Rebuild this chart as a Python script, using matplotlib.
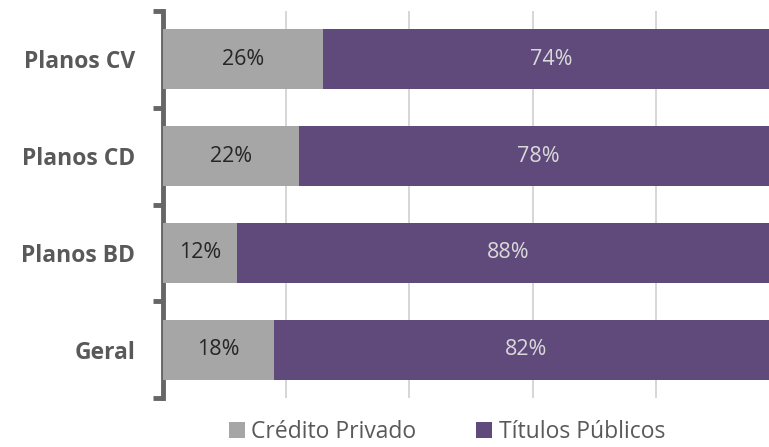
import matplotlib.pyplot as plt
import numpy as np

categorias = ['Planos CV', 'Planos CD', 'Planos BD', 'Geral']
credito_privado = [26, 22, 12, 18]
titulos_publicos = [74, 78, 88, 82]
series = ['Crédito Privado', 'Títulos Públicos']
cores = ['#a6a6a6', '#604a7b']

plt.rcParams['font.family'] = ['Open Sans', 'DejaVu Sans']

fig = plt.figure(figsize=(7.69, 4.47), dpi=100)
ax = fig.add_axes([163 / 769, 1 - 398 / 447, 616 / 769, 387 / 447])

y = np.arange(len(categorias))
cp = np.array(credito_privado) / 100
tp = np.array(titulos_publicos) / 100
ax.barh(y, cp, height=0.62, color=cores[0], label=series[0], zorder=3)
ax.barh(y, tp, left=cp, height=0.62, color=cores[1], label=series[1], zorder=3)

for i in range(len(categorias)):
    ax.text(cp[i] / 2, y[i], f'{credito_privado[i]}%', ha='center', va='center',
            fontsize=15.5, color='#262626', zorder=4)
    ax.text(cp[i] + tp[i] / 2, y[i], f'{titulos_publicos[i]}%', ha='center', va='center',
            fontsize=15.5, color='#d9d9d9', zorder=4)

ax.set_xlim(0, 1)
ax.set_ylim(len(categorias) - 0.5, -0.5)
ax.set_xticks([0.2, 0.4, 0.6, 0.8])
ax.tick_params(axis='x', length=0, labelbottom=False)
ax.grid(axis='x', color='#d0d0d0', linewidth=1.2, zorder=0)

ax.set_yticks(np.arange(-0.5, len(categorias), 1), minor=True)
ax.set_yticks(y)
ax.set_yticklabels(categorias)
ax.tick_params(axis='y', which='major', length=0, pad=20, labelsize=16.5, labelcolor='#595959')
ax.tick_params(axis='y', which='minor', length=7, width=3.5, color='#666666', direction='out')
for lbl in ax.get_yticklabels():
    lbl.set_fontweight('bold')

for s in ['top', 'right', 'bottom']:
    ax.spines[s].set_visible(False)
ax.spines['left'].set_color('#666666')
ax.spines['left'].set_linewidth(3.5)

leg = fig.legend(loc='center', bbox_to_anchor=(447 / 769, 1 - 432 / 447), ncol=2,
                 frameon=False, fontsize=16.5, handlelength=0.7, handleheight=0.7,
                 handletextpad=0.3, columnspacing=2.6)
for t in leg.get_texts():
    t.set_color('#595959')

fig.savefig('out.png', dpi=100)
